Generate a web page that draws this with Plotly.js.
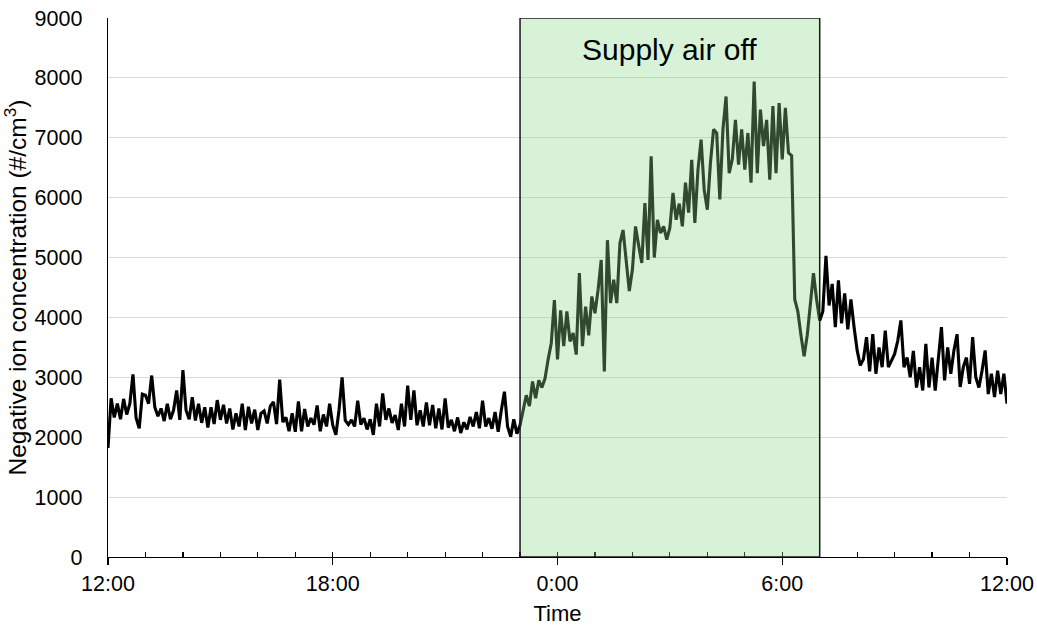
<!DOCTYPE html>
<html>
<head>
<meta charset="utf-8">
<script src="https://cdn.plot.ly/plotly-3.0.1.min.js"></script>
<style>html,body{margin:0;padding:0;background:#fff;}#chart{width:1037px;height:628px;}</style>
</head>
<body>
<div id="chart"></div>
<script>
// Negative ion concentration, 5-minute samples from 12:00 to 12:00 next day
const sampleMinutes = 5;
const ionConc = [
1820,2650,2330,2560,2300,2640,2380,2560,3050,2320,2150,2720,2700,2560,3030,2500,2350,2480,2270,2560,
2300,2450,2780,2290,3120,2450,2300,2670,2280,2560,2240,2500,2160,2500,2220,2620,2290,2540,2230,2480,
2130,2400,2180,2560,2120,2510,2230,2460,2120,2400,2440,2230,2520,2590,2220,2960,2250,2330,2100,2400,
2090,2600,2100,2470,2180,2320,2210,2530,2100,2380,2180,2560,2200,2040,2450,3000,2280,2210,2290,2180,
2610,2210,2320,2130,2300,2040,2560,2180,2730,2290,2480,2240,2370,2120,2560,2180,2860,2290,2780,2200,
2450,2180,2580,2200,2540,2150,2480,2130,2650,2160,2290,2100,2330,2070,2250,2130,2340,2180,2420,2150,
2610,2180,2320,2140,2420,2090,2450,2760,2180,2010,2300,2060,2200,2460,2700,2520,2930,2650,2950,2830,
2980,3300,3570,4290,3300,4120,3520,4100,3600,3740,3380,4740,3520,4180,3700,4350,4070,4460,4960,3100,
5290,4240,4630,4240,5240,5460,4960,4440,4800,5520,5200,4910,5910,4960,6690,5000,5630,5410,5520,5300,
5500,6080,5630,5900,5520,6250,5750,6630,5580,6470,6970,6130,5800,6580,7140,7080,5970,7140,7690,6410,
6640,7300,6550,7140,6470,7080,6250,7940,6410,7470,6860,7300,6300,7530,6410,7580,6640,7500,6750,6700,
4300,4100,3700,3350,3700,4200,4740,4300,3950,4100,5030,4200,4560,3840,4620,3900,4400,3800,4300,3840,
3450,3200,3300,3670,3100,3720,3060,3500,3170,3780,3170,3280,3390,3610,3950,3170,3330,3000,3440,2830,
3170,2780,3560,2830,3330,2780,3280,3840,2950,3500,3060,3450,3720,2840,3170,3330,2890,3670,3000,2830,
3110,3450,2720,3060,2670,3110,2720,3060,2560
];
const hoursFromNoon = ionConc.map((v, i) => i * sampleMinutes / 60);

const tickHours = [0, 6, 12, 18, 24];
const tickLabels = ["12:00", "18:00", "0:00", "6:00", "12:00"];
const offStart = 11, offEnd = 19;   // supply air off: 23:00 to 7:00
const offLabel = "Supply air off";

const FONT = "Liberation Sans, Arial, Helvetica, sans-serif";

const trace = {
  x: hoursFromNoon, y: ionConc, type: "scatter", mode: "lines",
  line: {color: "#000000", width: 3.1}, hoverinfo: "skip", showlegend: false
};
const ticksTrace = {x: [0, 24], y: [0, 0], xaxis: "x2", yaxis: "y", mode: "lines",
  line: {width: 0}, hoverinfo: "skip", showlegend: false};

const layout = {
  width: 1037, height: 628,
  margin: {l: 108, r: 30, t: 18, b: 71},
  paper_bgcolor: "#ffffff", plot_bgcolor: "#ffffff",
  font: {family: FONT, color: "#000000", size: 21},
  xaxis: {
    range: [0, 24], tickvals: tickHours, ticktext: tickLabels,
    ticks: "outside", ticklen: 7, tickwidth: 1.3, tickcolor: "#000",
    showline: true, linecolor: "#000", linewidth: 1.3,
    showgrid: false, zeroline: false, automargin: false,
    tickfont: {size: 21.5, family: FONT},
    title: {text: "Time", font: {size: 22, family: FONT}, standoff: 10}
  },
  xaxis2: {
    overlaying: "x", range: [0, 24], dtick: 1, tick0: 0,
    ticks: "inside", ticklen: 5, tickwidth: 1.2, tickcolor: "#000",
    showticklabels: false, showgrid: false, zeroline: false, showline: false
  },
  yaxis: {
    range: [0, 9000], dtick: 1000, tick0: 0,
    showline: true, linecolor: "#000", linewidth: 1.3,
    showgrid: true, gridcolor: "#d9d9d9", gridwidth: 1.2,
    zeroline: false, ticks: "outside", ticklen: 20, tickcolor: "rgba(0,0,0,0)",
    automargin: false,
    tickfont: {size: 21.5, family: FONT},
    title: {text: "Negative ion concentration (#/cm<sup>3</sup>)", font: {size: 24.5, family: FONT}, standoff: 8}
  },
  shapes: [{
    type: "rect", xref: "x", yref: "y", x0: offStart, x1: offEnd, y0: 0, y1: 9000,
    fillcolor: "rgba(138,218,138,0.34)", line: {color: "#1a1a1a", width: 1.5}, layer: "above"
  }],
  annotations: [{
    x: (offStart + offEnd) / 2, y: 8470, xref: "x", yref: "y", text: offLabel,
    showarrow: false, font: {size: 30, family: FONT, color: "#000"}
  }]
};

Plotly.newPlot("chart", [trace, ticksTrace], layout, {displayModeBar: false, staticPlot: true});
</script>
</body>
</html>
